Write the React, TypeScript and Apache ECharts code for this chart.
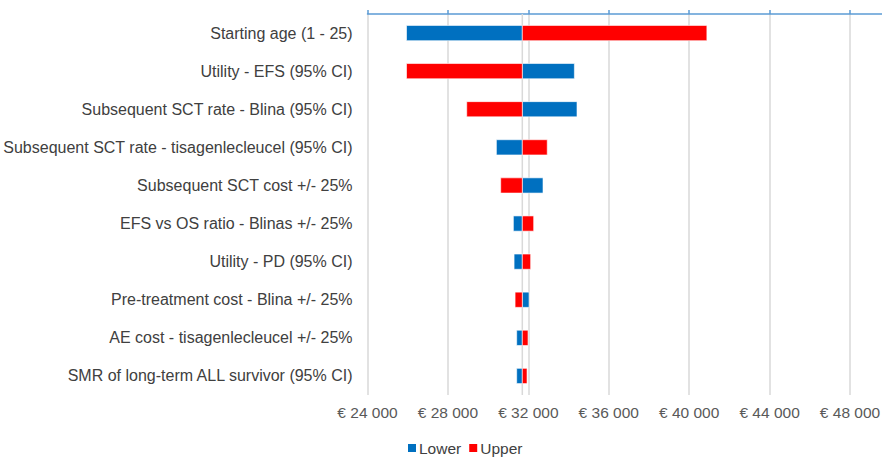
import React, { useEffect, useRef } from "react";
import * as echarts from "echarts";

const categories = [
  "Starting age (1 - 25)",
  "Utility - EFS (95% CI)",
  "Subsequent SCT rate - Blina (95% CI)",
  "Subsequent SCT rate - tisagenlecleucel (95% CI)",
  "Subsequent SCT cost +/- 25%",
  "EFS vs OS ratio - Blinas +/- 25%",
  "Utility - PD (95% CI)",
  "Pre-treatment cost - Blina +/- 25%",
  "AE cost - tisagenlecleucel +/- 25%",
  "SMR of long-term ALL survivor (95% CI)",
];
const baseValue = 31700;
const lowerValues = [25940, 34290, 34420, 30410, 32730, 31255, 31290, 32035, 31420, 31420];
const upperValues = [40880, 25940, 28935, 32940, 30625, 32265, 32115, 31340, 31985, 31935];
const tickValues = [24000, 28000, 32000, 36000, 40000, 44000, 48000];

const FONT = "'Liberation Sans', Arial, Helvetica, sans-serif";
const GRID_COLOR = "#D9D9D9";

export default function App() {
  const ref = useRef<HTMLDivElement>(null);
  useEffect(() => {
    if (!ref.current) return;
    const chart = echarts.init(ref.current, null, { renderer: "svg" });
    const makeRenderItem = (withBase: boolean) => (params: any, api: any) => {
      const v = api.value(0);
      const cat = api.value(1);
      const p0 = api.coord([baseValue, cat]);
      const p1 = api.coord([v, cat]);
      const h = api.size([0, 1])[1] * 0.4;
      const rect = {
        type: "rect",
        shape: {
          x: Math.min(p0[0], p1[0]),
          y: p0[1] - h / 2,
          width: Math.abs(p1[0] - p0[0]),
          height: h,
        },
        style: { ...api.style(), stroke: "#ffffff", lineWidth: 0.6 },
        z2: 10,
      };
      if (withBase && params.dataIndex === 0) {
        const cs = params.coordSys;
        return {
          type: "group",
          children: [
            {
              type: "line",
              shape: { x1: p0[0], y1: cs.y, x2: p0[0], y2: cs.y + cs.height },
              style: { stroke: GRID_COLOR, lineWidth: 1.5 },
              z2: 0,
            },
            rect,
          ],
        };
      }
      return rect;
    };
    const axMin = tickValues[0];
    const axMax = 51580;
    const fmt = (v: number) =>
      "€ " + String(Math.round(v / 1000)) + " " + String(v % 1000).padStart(3, "0");
    chart.setOption({
      animation: false,
      textStyle: { fontFamily: FONT },
      grid: { left: 367, right: -40, top: 14, bottom: 63 },
      legend: {
        data: [
          { name: "Lower", icon: "rect" },
          { name: "Upper", icon: "rect" },
        ],
        left: 403,
        top: 435,
        itemWidth: 8,
        itemHeight: 8,
        itemGap: 8,
        textStyle: { fontFamily: FONT, fontSize: 15.5, color: "#404040", padding: [0, 0, 0, -2] },
      },
      xAxis: [
        {
          type: "value",
          position: "top",
          min: axMin,
          max: axMax,
          interval: 4000,
          axisLine: { show: true, lineStyle: { color: "#5B9BD5", width: 1.5 } },
          axisTick: { show: true, inside: false, length: 4, lineStyle: { color: "#5B9BD5", width: 1.5 } },
          axisLabel: { show: false },
          splitLine: { show: true, showMaxLine: false, lineStyle: { color: GRID_COLOR, width: 1.5 } },
        },
        {
          type: "value",
          position: "bottom",
          min: axMin,
          max: axMax,
          interval: 4000,
          axisLine: { show: false },
          axisTick: { show: false },
          splitLine: { show: false },
          axisLabel: {
            show: true,
            showMaxLabel: false,
            margin: 9,
            fontFamily: FONT,
            fontSize: 15.5,
            color: "#595959",
            formatter: (v: number) => (tickValues.includes(v) ? fmt(v) : ""),
          },
        },
      ],
      yAxis: {
        type: "category",
        data: categories,
        inverse: true,
        axisLine: { show: false },
        axisTick: { show: false },
        splitLine: { show: false },
        axisLabel: { margin: 15, fontFamily: FONT, fontSize: 16, color: "#404040" },
      },
      series: [
        {
          name: "Lower",
          type: "custom",
          xAxisIndex: 0,
          renderItem: makeRenderItem(true),
          encode: { x: 0, y: 1 },
          itemStyle: { color: "#0070C0" },
          data: lowerValues.map((v, i) => [v, i]),
          z: 2,
        },
        {
          name: "Upper",
          type: "custom",
          xAxisIndex: 0,
          renderItem: makeRenderItem(false),
          encode: { x: 0, y: 1 },
          itemStyle: { color: "#FF0000" },
          data: upperValues.map((v, i) => [v, i]),
          z: 3,
        },
      ],
    });
    return () => chart.dispose();
  }, []);
  return (
    <div style={{ width: 882, height: 458, position: "absolute", left: 0, top: 0, overflow: "hidden" }}>
      <div ref={ref} style={{ width: 922, height: 458 }} />
    </div>
  );
}
